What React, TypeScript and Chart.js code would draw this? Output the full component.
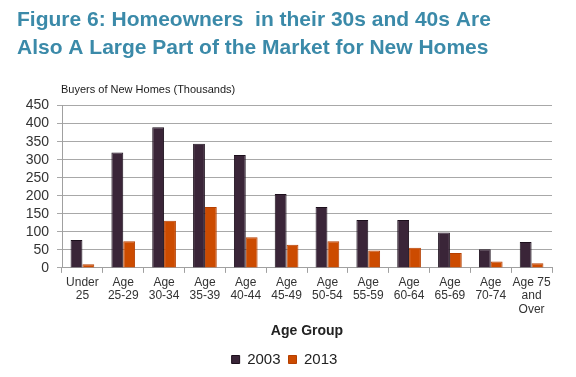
import React, { useEffect, useRef } from "react";
import { Chart, registerables } from "chart.js";

Chart.register(...registerables);

const categories: (string | string[])[] = [
  ["Under", "25"],
  ["Age", "25-29"],
  ["Age", "30-34"],
  ["Age", "35-39"],
  ["Age", "40-44"],
  ["Age", "45-49"],
  ["Age", "50-54"],
  ["Age", "55-59"],
  ["Age", "60-64"],
  ["Age", "65-69"],
  ["Age", "70-74"],
  ["Age 75", "and", "Over"],
];
const values2003 = [77, 320, 390, 344, 313, 205, 169, 133, 133, 98, 52, 72];
const values2013 = [10, 74, 131, 169, 85, 64, 74, 48, 56, 41, 18, 13];
const seriesNames = ["2003", "2013"];
const titleLines = [
  "Figure 6: Homeowners  in their 30s and 40s Are",
  "Also A Large Part of the Market for New Homes",
];
const yCaption = "Buyers of New Homes (Thousands)";
const xTitle = "Age Group";

const FONT = "'Liberation Sans', Arial, sans-serif";

export default function App() {
  const ref = useRef<HTMLCanvasElement>(null);
  useEffect(() => {
    document.body.style.margin = "0";
    const captionPlugin = {
      id: "caption",
      afterDraw(chart: any) {
        const ctx = chart.ctx;
        ctx.save();
        ctx.font = `11px ${FONT}`;
        ctx.fillStyle = "#1a1a1a";
        ctx.textBaseline = "alphabetic";
        ctx.textAlign = "left";
        ctx.fillText(yCaption, chart.chartArea.left - 1, chart.chartArea.top - 13);
        ctx.restore();
      },
    };
    const chart = new Chart(ref.current!, {
      type: "bar",
      data: {
        labels: categories,
        datasets: [
          {
            label: seriesNames[0],
            data: values2003,
            backgroundColor: "#3a2538",
            borderColor: "#1c0f1c",
            borderWidth: 1,
            barPercentage: 1,
            categoryPercentage: 0.58,
          },
          {
            label: seriesNames[1],
            data: values2013,
            backgroundColor: "#cc4b00",
            borderColor: "#b53f00",
            borderWidth: 1,
            barPercentage: 1,
            categoryPercentage: 0.58,
          },
        ],
      },
      options: {
        animation: false,
        responsive: false,
        layout: { padding: { left: 17, right: 24, top: 0, bottom: 0 } },
        plugins: {
          title: {
            display: true,
            text: titleLines,
            align: "start",
            color: "#3b8aa9",
            font: { family: FONT, size: 21, weight: "bold", lineHeight: 1.3 },
            padding: { top: 7, bottom: 44 },
          },
          legend: {
            position: "bottom",
            labels: {
              boxWidth: 8,
              boxHeight: 8,
              color: "#222",
              font: { family: FONT, size: 15 },
              padding: 8,
            },
          },
          tooltip: { enabled: false },
        },
        scales: {
          x: {
            offset: true,
            grid: {
              offset: true,
              drawOnChartArea: false,
              drawTicks: true,
              tickLength: 5,
              color: "#a0a0a0",
            },
            border: { display: true, color: "#a0a0a0" },
            ticks: {
              color: "#333",
              font: { family: FONT, size: 12, lineHeight: 1.12 },
              maxRotation: 0,
              autoSkip: false,
              padding: 3,
            },
            title: {
              display: true,
              text: xTitle,
              color: "#222",
              font: { family: FONT, size: 14, weight: "bold" },
              padding: { top: 4, bottom: 4 },
            },
          },
          y: {
            min: 0,
            max: 450,
            ticks: {
              stepSize: 50,
              autoSkip: false,
              color: "#333",
              font: { family: FONT, size: 14 },
              padding: 8,
            },
            grid: {
              color: "#a8a8a8",
              lineWidth: 1,
              tickLength: 5,
            },
            border: { display: true, color: "#a0a0a0" },
            afterFit(scale: any) {
              scale.width = 45;
            },
          },
        },
      },
      plugins: [captionPlugin],
    } as any);
    return () => chart.destroy();
  }, []);
  return (
    <div style={{ width: 576, height: 377 }}>
      <canvas ref={ref} width={576} height={377} style={{ display: "block" }} />
    </div>
  );
}
